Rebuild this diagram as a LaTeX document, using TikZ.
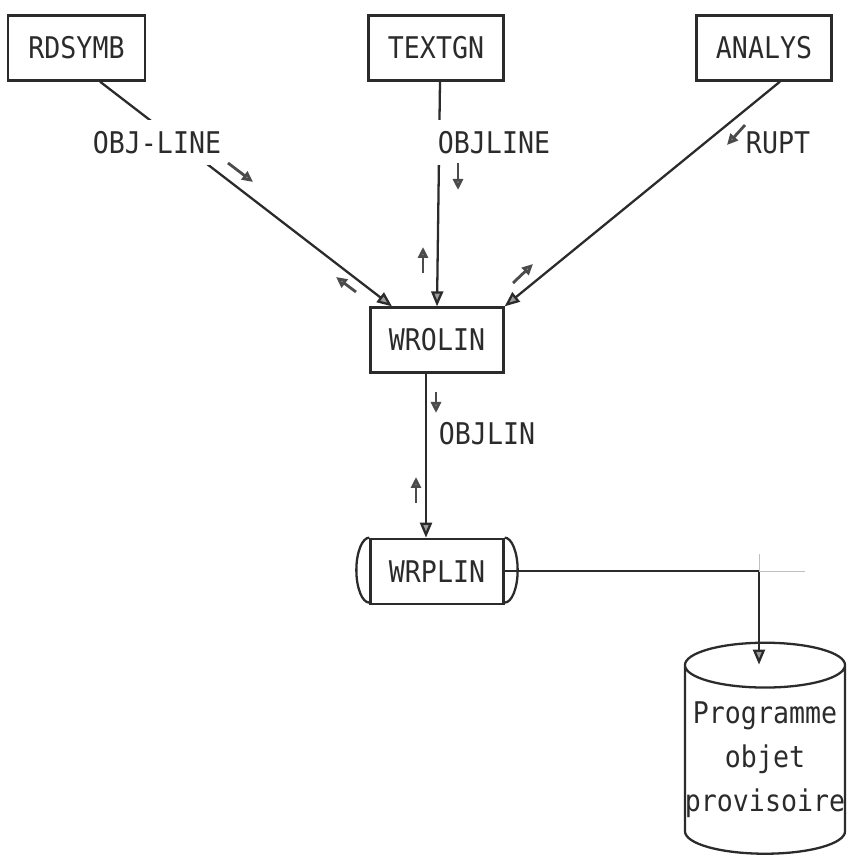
\documentclass[tikz,border=0pt]{standalone}
\usepackage{fontspec}
\setmonofont{DejaVu Sans Mono}[FakeStretch=0.89]
\usepackage{tikz}
\usetikzlibrary{shapes.geometric, arrows.meta, positioning, calc}
\usepackage{xcolor}
\definecolor{inkgray}{HTML}{2B2B2B}
\definecolor{tipgray}{HTML}{9C9C9C}

\begin{document}
\begin{tikzpicture}[
    node distance=0.5cm,
    every node/.style={font=\ttfamily\fontsize{17}{25}\selectfont, text=inkgray},
    module/.style={draw=inkgray, line width=1.3pt, minimum width=2.7cm, minimum height=1.3cm, inner sep=0pt},
    flowlabel/.style={fill=white, inner xsep=4pt, minimum height=0.9cm},
    link/.style={-{Triangle[length=3mm, width=2.4mm, fill=tipgray]}, line width=1.3pt, draw=inkgray},
    flowtip/.style={-{Triangle[length=2.2mm, width=2mm, fill=tipgray]}, line width=1.6pt, draw=inkgray!85}
]
    \useasboundingbox (0,0) rectangle (17.32,17.2);

    \node[module, minimum width=2.74cm] (rdsymb) at (1.53,16.24) {RDSYMB};
    \node[module] (textgn) at (8.72,16.24) {TEXTGN};
    \node[module] (analys) at (15.28,16.24) {ANALYS};
    \node[module, minimum width=2.66cm] (wrolin) at (8.74,10.4) {WROLIN};
    \node[module, minimum width=2.66cm, below=3.28cm of wrolin] (wrplin) {WRPLIN};
    \node[draw=inkgray, line width=1.3pt, cylinder, shape border rotate=90, aspect=0.28, minimum width=3.12cm, minimum height=4.22cm, align=center, inner xsep=0pt] (store) at (15.3,2.0) {Programme\\objet\\provisoire};

    % end caps of the WRPLIN box
    \draw[inkgray, line width=1.3pt] (wrplin.north west) arc[start angle=90, end angle=270, x radius=0.26cm, y radius=0.65cm];
    \draw[inkgray, line width=1.3pt] (wrplin.north east) arc[start angle=90, end angle=-90, x radius=0.26cm, y radius=0.65cm];

    \draw[link] ([xshift=0.47cm]rdsymb.south) -- ([xshift=-0.9cm]wrolin.north);
    \draw[link] ([xshift=0.08cm]textgn.south) -- ([xshift=0.02cm]textgn.south |- wrolin.north);
    \draw[link] ([xshift=0.32cm]analys.south) -- (wrolin.north east);
    \draw[link] ([xshift=-0.22cm]wrolin.south) -- ([xshift=-0.22cm]wrplin.north);
    \draw[link] (wrplin.east) -| ([xshift=-0.12cm, yshift=-0.46cm]store.north);

    % faint pencil marks at the bend
    \coordinate (bend) at ([xshift=-0.12cm]store.north |- wrplin.east);
    \draw[inkgray!30, thin] (bend) -- ++(0,0.34);
    \draw[inkgray!30, thin] (bend) -- ++(0.92,0);

    \node[flowlabel] (objline1) at (3.14,14.34) {OBJ-LINE};
    \node[flowlabel] (objline2) at (9.88,14.34) {OBJLINE};
    \node (rupt) at (15.56,14.34) {RUPT};
    \node (objlin) at (9.74,8.52) {OBJLIN};

    % direction marks
    \coordinate (t1) at (4.56,13.94); \coordinate (h1) at (5.06,13.56);
    \coordinate (t2) at (7.12,11.36); \coordinate (h2) at (6.72,11.66);
    \coordinate (t3) at (9.16,13.94); \coordinate (h3) at (9.16,13.40);
    \coordinate (t4) at (8.46,11.74); \coordinate (h4) at (8.46,12.26);
    \coordinate (t5) at (14.90,14.70); \coordinate (h5) at (14.54,14.30);
    \coordinate (t6) at (10.26,11.54); \coordinate (h6) at (10.66,11.92);
    \coordinate (t7) at (8.72,9.36); \coordinate (h7) at (8.72,8.94);
    \coordinate (t8) at (8.32,7.14); \coordinate (h8) at (8.32,7.66);

    \draw[flowtip] (t1) -- (h1);
    \draw[flowtip] (t2) -- (h2);
    \draw[flowtip] (t3) -- (h3);
    \draw[flowtip] (t4) -- (h4);
    \draw[flowtip] (t5) -- (h5);
    \draw[flowtip] (t6) -- (h6);
    \draw[flowtip] (t7) -- (h7);
    \draw[flowtip] (t8) -- (h8);
\end{tikzpicture}
\end{document}
